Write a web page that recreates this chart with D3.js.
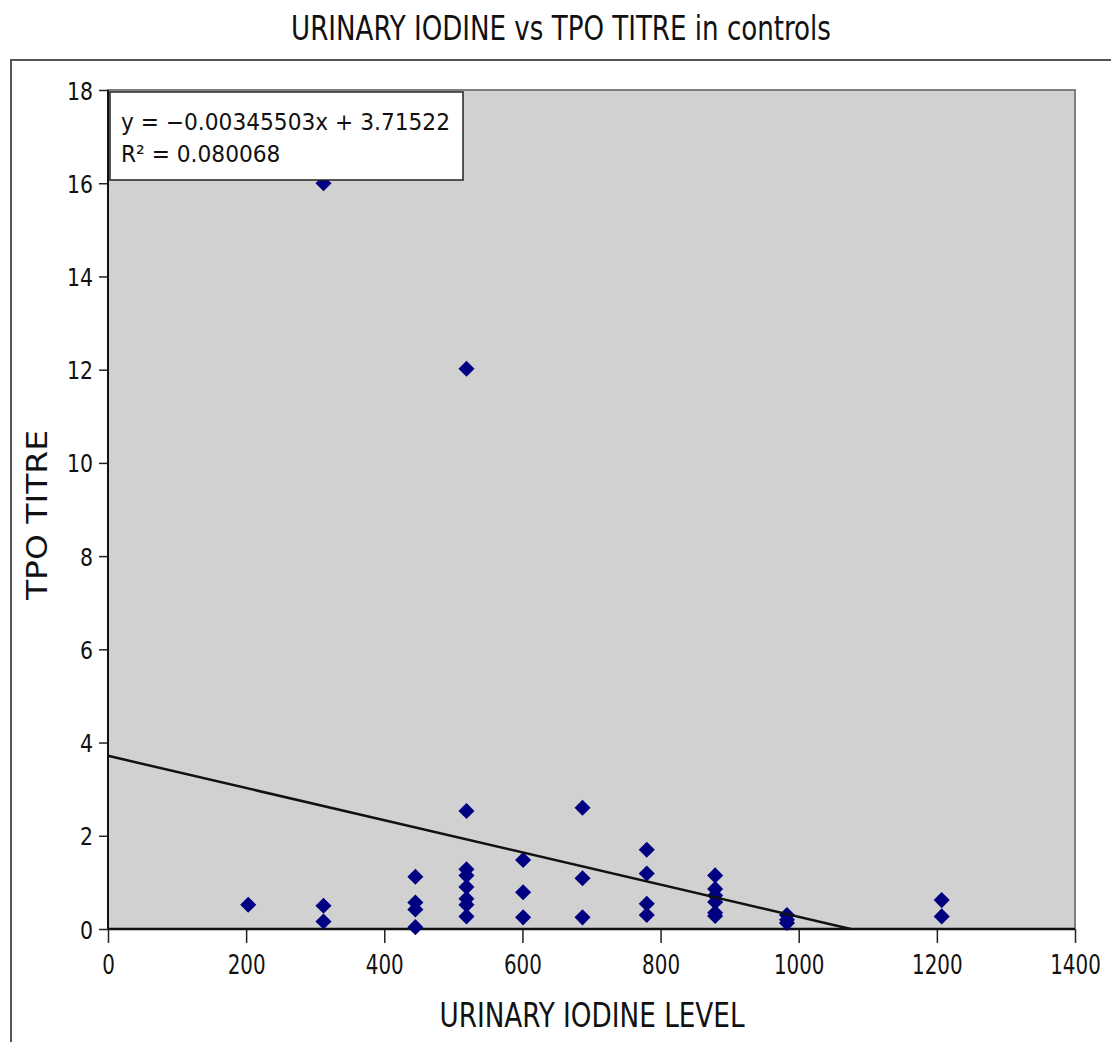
<!DOCTYPE html>
<html>
<head>
<meta charset="utf-8">
<script src="https://cdn.jsdelivr.net/npm/d3@7"></script>
<style>
  html, body { margin: 0; padding: 0; background: #fff; }
  svg { display: block; }
</style>
</head>
<body>
<svg id="chart" width="1111" height="1042"></svg>
<script>
// ---- data ----
const titleText = "URINARY IODINE vs TPO TITRE in controls";
const xLabelText = "URINARY IODINE LEVEL";
const yLabelText = "TPO TITRE";
const xTicks = [0, 200, 400, 600, 800, 1000, 1200, 1400];
const yTicks = [0, 2, 4, 6, 8, 10, 12, 14, 16, 18];
const iodine = [203, 312, 312, 312, 445, 445, 445, 445,
  519, 519, 519, 519, 519, 519, 519, 519,
  601, 601, 601, 687, 687, 687, 780, 780, 780, 780,
  879, 879, 879, 879, 879, 879, 983, 983, 983, 1207, 1207];
const tpo = [0.52, 0.50, 0.16, 16.0, 1.12, 0.57, 0.42, 0.04,
  12.02, 2.53, 1.28, 1.15, 0.90, 0.65, 0.52, 0.27,
  1.48, 0.79, 0.25, 2.60, 1.09, 0.25, 1.70, 1.19, 0.54, 0.30,
  1.15, 0.86, 0.72, 0.58, 0.35, 0.28, 0.30, 0.20, 0.13, 0.62, 0.27];
const slope = -0.00345503;
const intercept = 3.71522;
const eqLines = ["y = \u22120.00345503x + 3.71522", "R\u00B2 = 0.080068"];

// ---- layout ----
const svg = d3.select("#chart");
const L = 108, R = 1075, T = 90, B = 929;
const x = d3.scaleLinear().domain([0, 1400]).range([L, R]);
const y = d3.scaleLinear().domain([0, 18]).range([B, T]);
const condensed = "'DejaVu Sans Condensed', 'DejaVu Sans', sans-serif";
const normal = "'DejaVu Sans', sans-serif";

// outer frame
svg.append("rect").attr("x", 11).attr("y", 60).attr("width", 1300).attr("height", 1200)
  .attr("fill", "none").attr("stroke", "#555").attr("stroke-width", 2);

// title
svg.append("text").attr("transform", "translate(561,40) scale(0.88,1)")
  .attr("text-anchor", "middle").attr("font-family", condensed).attr("font-size", 33)
  .attr("fill", "#111").text(titleText);

// plot background
svg.append("rect").attr("x", L).attr("y", T).attr("width", R - L).attr("height", B - T)
  .attr("fill", "#d1d1d1").attr("stroke", "#808080").attr("stroke-width", 2);

// axes
const xAxis = svg.append("g").attr("transform", `translate(0,${B})`)
  .call(d3.axisBottom(x).tickValues(xTicks).tickSize(14).tickPadding(26).tickFormat(d3.format("d")));
const yAxis = svg.append("g").attr("transform", `translate(${L},0)`)
  .call(d3.axisLeft(y).tickValues(yTicks).tickSize(9).tickPadding(7.5).tickFormat(d3.format("d")));
[xAxis, yAxis].forEach(g => {
  g.select(".domain").remove();
  g.selectAll(".tick line").attr("stroke", "#222").attr("stroke-width", 1.5);
  g.selectAll(".tick text").attr("font-family", condensed).attr("fill", "#111");
});
xAxis.selectAll(".tick text").attr("font-size", 26).attr("dy", "0.71em")
  .attr("y", 45 - 26 * 0.71).attr("transform", "scale(0.85,1)");
yAxis.selectAll(".tick text").attr("font-size", 25).attr("dy", "0.36em")
  .attr("transform", "scale(0.91,1)");
// axis lines
svg.append("line").attr("x1", L).attr("x2", L).attr("y1", T).attr("y2", B)
  .attr("stroke", "#111").attr("stroke-width", 2);
svg.append("line").attr("x1", L).attr("x2", R).attr("y1", B).attr("y2", B)
  .attr("stroke", "#111").attr("stroke-width", 2.5);

// points
const diamond = d3.symbol().type(d3.symbolDiamond2).size(165);
svg.append("g").selectAll("path").data(iodine.map((d, i) => [d, tpo[i]])).join("path")
  .attr("d", diamond)
  .attr("transform", d => `translate(${x(d[0])},${y(d[1])})`)
  .attr("fill", "#000080");

// trend line
const xEnd = -intercept / slope;
svg.append("line")
  .attr("x1", x(0)).attr("y1", y(intercept))
  .attr("x2", x(xEnd)).attr("y2", y(slope * xEnd + intercept))
  .attr("stroke", "#111").attr("stroke-width", 2.5);

// equation box
svg.append("rect").attr("x", 110).attr("y", 92).attr("width", 353).attr("height", 88)
  .attr("fill", "#fff").attr("stroke", "#222").attr("stroke-width", 1.5);
eqLines.forEach((t, i) => {
  svg.append("text").attr("transform", `translate(121,${130 + i * 32}) scale(0.945,1)`)
    .attr("font-family", normal).attr("font-size", 23).attr("fill", "#111").text(t);
});

// axis titles
svg.append("text").attr("transform", "translate(592,1027) scale(0.86,1)")
  .attr("text-anchor", "middle").attr("font-family", condensed).attr("font-size", 34)
  .attr("fill", "#111").text(xLabelText);
svg.append("text").attr("transform", "translate(47,515) scale(0.87,1) rotate(-90)")
  .attr("text-anchor", "middle").attr("font-family", normal).attr("font-size", 33)
  .attr("fill", "#111").text(yLabelText);
</script>
</body>
</html>
